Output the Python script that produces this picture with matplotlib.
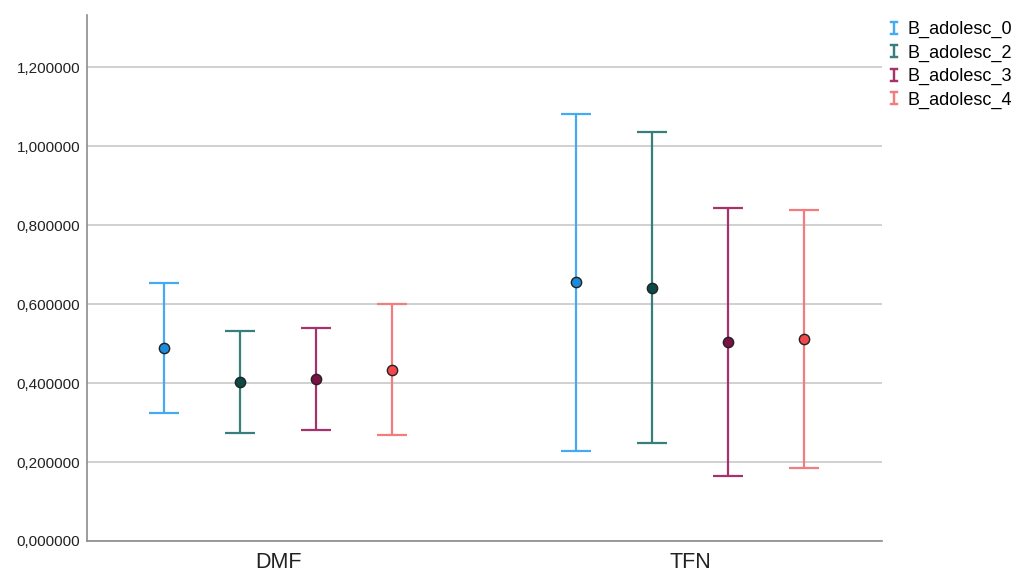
import numpy as np
import matplotlib.pyplot as plt
from matplotlib.lines import Line2D
from matplotlib.ticker import FuncFormatter

plt.rcParams['font.family'] = ['Liberation Sans', 'DejaVu Sans']

categories = ['DMF', 'TFN']
groups = ['B_adolesc_0', 'B_adolesc_2', 'B_adolesc_3', 'B_adolesc_4']

# mean, lower and upper bound of each interval, per group (DMF, TFN)
means = {
    'B_adolesc_0': [0.489, 0.656],
    'B_adolesc_2': [0.403, 0.641],
    'B_adolesc_3': [0.410, 0.504],
    'B_adolesc_4': [0.433, 0.511],
}
lower = {
    'B_adolesc_0': [0.324, 0.228],
    'B_adolesc_2': [0.273, 0.248],
    'B_adolesc_3': [0.281, 0.165],
    'B_adolesc_4': [0.268, 0.185],
}
upper = {
    'B_adolesc_0': [0.653, 1.081],
    'B_adolesc_2': [0.532, 1.035],
    'B_adolesc_3': [0.539, 0.843],
    'B_adolesc_4': [0.600, 0.838],
}

line_colors = ['#45aaf0', '#367f7b', '#a5326a', '#f27c7e']
dot_colors = ['#1e8ada', '#0c4a46', '#7b1146', '#f2484b']
offsets = [-0.277, -0.092, 0.092, 0.277]

fig = plt.figure(figsize=(10.21, 5.74), dpi=100)
ax = fig.add_axes([87 / 1021, 33 / 574, 795 / 1021, 526 / 574])

x = np.arange(len(categories))
handles = []
for i, g in enumerate(groups):
    m = np.array(means[g])
    lo = m - np.array(lower[g])
    hi = np.array(upper[g]) - m
    ax.errorbar(x + offsets[i], m, yerr=[lo, hi], fmt='none',
                ecolor=line_colors[i], elinewidth=1.6, capsize=11,
                capthick=1.6, zorder=3)
    ax.scatter(x + offsets[i], m, s=55, color=dot_colors[i],
               edgecolors='#222222', linewidths=1.0, zorder=4)
    handles.append(Line2D([], [], linestyle='none', marker=r'$\mathtt{I}$',
                          markersize=10, color=line_colors[i],
                          markeredgewidth=0.3))

ax.set_xlim(-0.4636, 1.466)
ax.set_ylim(0, 1.332)
ax.set_yticks(np.arange(0, 1.21, 0.2))
ax.yaxis.set_major_formatter(FuncFormatter(lambda v, p: ('%.6f' % v).replace('.', ',')))
ax.set_xticks(x)
ax.set_xticklabels(categories, fontsize=15.5, color='#222222')
ax.tick_params(axis='y', length=0, labelsize=11, colors='#222222', pad=5)
ax.tick_params(axis='x', length=0, pad=8)
ax.grid(axis='y', color='#c8c8c8', linewidth=1.2, zorder=0)
ax.set_axisbelow(True)
for s in ['top', 'right']:
    ax.spines[s].set_visible(False)
for s in ['left', 'bottom']:
    ax.spines[s].set_color('#8c8c8c')
    ax.spines[s].set_linewidth(1.2)

fig.legend(handles, groups, loc='upper left', bbox_to_anchor=(879 / 1021, 1 - 14 / 574),
           frameon=False, fontsize=13, handlelength=0.9, handletextpad=0.3,
           labelspacing=0.35, borderaxespad=0)

fig.savefig('out.png', dpi=100, facecolor='white')
